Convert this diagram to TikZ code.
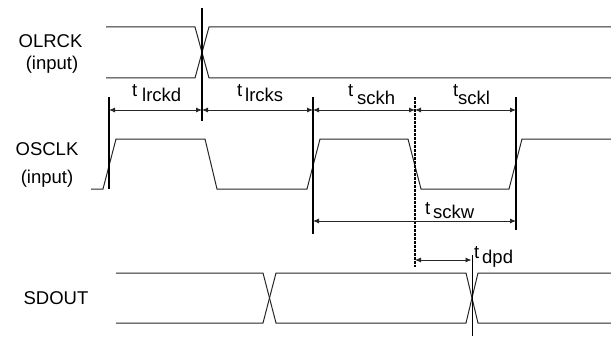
\documentclass[tikz,border=0pt]{standalone}
\usepackage{fontspec}
\setmainfont{Liberation Sans}
\usetikzlibrary{arrows.meta}
\begin{document}
\begin{tikzpicture}[x=1pt,y=-1pt,
  sig/.style={line width=1pt,black!85,line join=miter},
  mark line/.style={line width=1.4pt,black},
  dash line/.style={line width=1.3pt,black,dash pattern=on 3pt off 1pt},
  dim/.style={line width=0.9pt,black!85,{Latex[length=6pt,width=5pt]}-{Latex[length=6pt,width=5pt]}},
  lbl/.style={font=\fontsize{18.5}{20}\selectfont,inner sep=0pt},
  tl/.style={font=\fontsize{18.5}{20}\selectfont,inner sep=0pt,anchor=base west}]
\useasboundingbox (0,0) rectangle (611,337);
% left labels
\node[lbl] (olrck) at (50.5,41.5) {OLRCK};
\node[lbl] (olrcki) at (52,65) {(input)};
\node[lbl] (osclk) at (47,149) {OSCLK};
\node[lbl] (osclki) at (47,179) {(input)};
\node[lbl] (sdout) at (56,298.5) {SDOUT};
% OLRCK
\draw[sig] (106,27) -- (195,27) -- (209,78) -- (611,78);
\draw[sig] (106,78) -- (195,78) -- (209,27) -- (611,27);
% OSCLK
\draw[sig] (91,189) -- (103,189) -- (116,139) -- (205,139) -- (217,189) -- (307,189)
  -- (320,139) -- (408,139) -- (421,189) -- (509,189) -- (522,139) -- (611,139);
% SDOUT
\draw[sig] (116,273) -- (263,273) -- (276,323) -- (466,323) -- (478,273) -- (611,273);
\draw[sig] (116,323) -- (263,323) -- (276,273) -- (466,273) -- (478,323) -- (611,323);
% vertical markers
\coordinate (a1) at (109,110);
\coordinate (a2) at (202,110);
\coordinate (a3) at (313,110);
\coordinate (a4) at (415,110);
\coordinate (a5) at (516,110);
\coordinate (w1) at (313,221);
\coordinate (w2) at (516,221);
\coordinate (d1) at (415,260);
\coordinate (d2) at (471.5,260);
\draw[mark line] (109,97) -- (109,189);
\draw[mark line] (202,8) -- (202,121);
\draw[mark line] (313,97) -- (313,234);
\draw[dash line] (415,97) -- (415,267);
\draw[mark line] (516,97) -- (516,230);
\draw[line width=1pt,black] (472,255) -- (472,336);
% dimension arrows
\draw[dim] (a1) -- (a2);
\draw[dim] (a2) -- (a3);
\draw[dim] (a3) -- (a4);
\draw[dim] (a4) -- (a5);
\draw[dim] (w1) -- (w2);
\draw[dim] (d1) -- (d2);
% timing labels
\node[tl] (t1) at (132,97) {t};
\node[tl] (s1) at (142,102) {lrckd};
\node[tl] (t2) at (237,97) {t};
\node[tl] (s2) at (245,102) {lrcks};
\node[tl] (t3) at (348,97) {t};
\node[tl] (s3) at (357,104) {sckh};
\node[tl] (t4) at (453,96) {t};
\node[tl] (s4) at (458,105) {sckl};
\node[tl] (t5) at (425,214) {t};
\node[tl] (s5) at (433,218) {sckw};
\node[tl] (t6) at (474,258) {t};
\node[tl] (s6) at (482,263) {dpd};
\end{tikzpicture}
\end{document}
